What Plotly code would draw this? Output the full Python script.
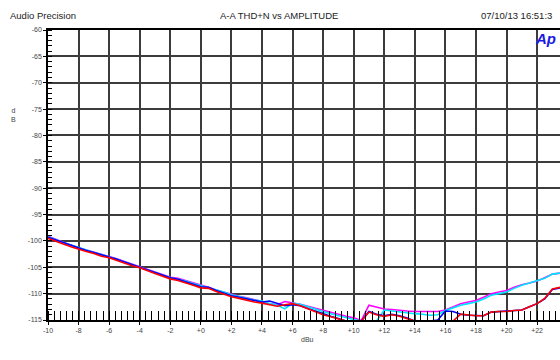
import plotly.graph_objects as go

dbu = [-10, -9.5, -9, -8.5, -8, -7.5, -7, -6.5, -6, -5.5, -5, -4.5, -4, -3.5, -3, -2.5,
       -2, -1.5, -1, -0.5, 0, 0.5, 1, 1.5, 2, 2.5, 3, 3.5, 4, 4.5, 5, 5.5, 6, 6.5,
       7, 7.5, 8, 8.5, 9, 9.5, 10, 10.5, 11, 11.5, 12, 12.5, 13, 13.5, 14, 14.5, 15,
       15.5, 16, 16.5, 17, 17.5, 18, 18.5, 19, 19.5, 20, 20.5, 21, 21.5, 22, 22.5, 23, 23.5]

magenta = [-99.1, -99.7, -100.2, -100.8, -101.3, -101.7, -102.1, -102.5, -102.9, -103.4,
           -103.9, -104.4, -104.9, -105.4, -105.9, -106.4, -106.9, -107.1, -107.5, -107.9,
           -108.4, -108.8, -109.3, -109.7, -110.2, -110.5, -110.8, -111.1, -111.5, -111.9,
           -112.1, -111.5, -111.7, -112.0, -112.4, -112.8, -113.1, -113.5, -113.9, -114.3,
           -114.6, -115.1, -112.2, -112.5, -112.9, -113.0, -113.2, -113.3, -113.4, -113.4,
           -113.5, -113.4, -113.1, -112.5, -111.9, -111.6, -111.3, -110.7, -110.0, -109.7,
           -109.4, -108.8, -108.3, -108.0, -107.6, -107.0, -106.3, -106.1]

cyan = [-99.2, -99.8, -100.3, -100.8, -101.3, -101.8, -102.2, -102.6, -103.0, -103.5,
        -104.0, -104.5, -104.9, -105.5, -106.0, -106.5, -107.0, -107.3, -107.6, -108.1,
        -108.5, -108.8, -109.3, -109.7, -110.2, -110.6, -110.9, -111.2, -111.4, -111.9,
        -112.2, -112.9, -111.8, -112.0, -112.5, -113.0, -113.4, -113.8, -114.2, -114.5,
        -114.9, -115.2, -115.2, -115.2, -113.1, -113.3, -113.5, -113.7, -113.8, -113.9,
        -114.1, -114.0, -113.2, -112.7, -112.2, -111.9, -111.6, -111.0, -110.3, -110.0,
        -109.7, -109.0, -108.4, -108.0, -107.6, -107.1, -106.3, -106.1]

blue = [-99.3, -99.8, -100.3, -100.9, -101.4, -101.8, -102.2, -102.6, -103.0, -103.5,
        -104.0, -104.5, -105.0, -105.5, -106.0, -106.5, -107.0, -107.3, -107.7, -108.2,
        -108.7, -108.8, -109.4, -109.9, -110.4, -110.7, -111.0, -111.3, -111.6, -111.4,
        -111.9, -112.3, -112.1, -112.3, -112.8, -113.3, -113.9, -114.3, -114.7, -115.2,
        -115.2, -115.2, -113.4, -113.9, -114.2, -113.9, -114.2, -114.6, -115.2, -115.2,
        -115.2, -115.0, -113.3, -113.4, -113.9, -114.1, -114.2, -114.2, -113.5, -113.4,
        -113.4, -113.2, -113.1, -112.5, -111.9, -111.0, -109.2, -108.9]

red = [-99.5, -100.1, -100.6, -101.1, -101.6, -102.0, -102.4, -102.9, -103.2, -103.7,
       -104.3, -104.7, -105.1, -105.7, -106.2, -106.7, -107.2, -107.5, -107.9, -108.4,
       -108.9, -109.0, -109.6, -110.1, -110.6, -110.9, -111.3, -111.6, -111.8, -112.1,
       -112.4, -112.1, -111.9, -112.3, -112.9, -113.4, -114.0, -114.4, -114.8, -115.2,
       -115.2, -115.2, -113.5, -114.0, -114.3, -114.0, -114.3, -114.8, -115.2, -115.2,
       -115.2, -115.2, -115.2, -115.2, -113.9, -114.1, -114.2, -114.2, -113.5, -113.4,
       -113.4, -113.2, -113.1, -112.5, -111.9, -110.9, -109.1, -108.8]

series = [("magenta", magenta, "#ff00ff"), ("cyan", cyan, "#00e5ff"),
          ("blue", blue, "#0000ff"), ("red", red, "#ff0000")]

x_ticks = list(range(-10, 25, 2))
x_text = [f"{v}" if v < 0 else f"+{v}" for v in x_ticks]
y_ticks = list(range(-115, -59, 5))
y_text = [str(v) for v in y_ticks]

fig = go.Figure()
for name, vals, col in series:
    fig.add_trace(go.Scatter(x=dbu, y=vals, mode="lines", name=name,
                             line=dict(color=col, width=1.6), showlegend=False))

FONT = "Liberation Sans, Arial, sans-serif"
W0 = 48
PW = 560 - W0

def px(x):
    return (x - W0) / PW

fig.update_layout(
    width=560, height=360,
    margin=dict(l=W0, r=0, t=30, b=40),
    paper_bgcolor="white", plot_bgcolor="white",
    font=dict(family=FONT, size=7, color="#444"),
    xaxis=dict(range=[-10, 23.5], tickvals=x_ticks, ticktext=x_text,
               showgrid=True, gridcolor="#3c3c3c", gridwidth=1.5,
               showline=True, linecolor="black", linewidth=1.5, mirror=True,
               ticks="outside", ticklen=3, tickcolor="black", zeroline=False,
               tickfont=dict(size=7, color="#444"),
               minor=dict(dtick=0.4, ticks="inside", ticklen=9, tickcolor="black",
                          tickwidth=1, showgrid=False)),
    yaxis=dict(range=[-115, -60], tickvals=y_ticks, ticktext=y_text,
               showgrid=True, gridcolor="#3c3c3c", gridwidth=1.6,
               showline=True, linecolor="black", linewidth=1.5, mirror=False,
               ticks="outside", ticklen=3, tickcolor="black", zeroline=False,
               tickfont=dict(size=7, color="#444"),
               minor=dict(dtick=1, ticks="inside", ticklen=4, tickcolor="black",
                          tickwidth=1, showgrid=False)),
)

ann = [
    dict(text="Audio Precision", x=px(8), y=15, xanchor="left", size=9.5, color="#222"),
    dict(text="A-A THD+N vs AMPLITUDE", x=px(279), y=15, xanchor="center", size=9.5, color="#222"),
    dict(text="07/10/13 16:51:3", x=px(479), y=15, xanchor="left", size=9.5, color="#222"),
    dict(text="dBu", x=px(307), y=339, xanchor="center", size=7, color="#444"),
    dict(text="d<br>B", x=px(13), y=115, xanchor="center", size=7, color="#444"),
]
for a in ann:
    fig.add_annotation(text=a["text"], xref="paper", yref="paper",
                       x=a["x"], y=1 - (a["y"] - 30) / 290, xanchor=a["xanchor"],
                       yanchor="middle", showarrow=False,
                       font=dict(family=FONT, size=a["size"], color=a["color"]))

fig.add_annotation(text="<b><i>Ap</i></b>", xref="paper", yref="paper",
                   x=px(558), y=1 - (39 - 30) / 290, xanchor="right", yanchor="middle",
                   showarrow=False, font=dict(family=FONT, size=15, color="#1a1ae6"))

fig.write_html("out.html", config={"displayModeBar": False})
